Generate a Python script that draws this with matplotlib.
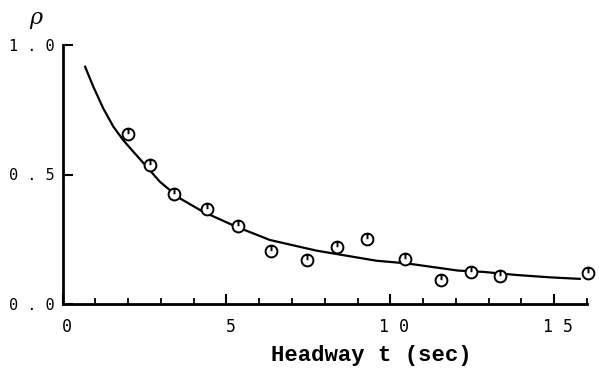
import matplotlib.pyplot as plt
import matplotlib.transforms as mtrans
from matplotlib.path import Path
import numpy as np

# observed points (headway t, rho)
obs_t = [2.0, 2.67, 3.40, 4.41, 5.35, 6.36, 7.45, 8.37, 9.28, 10.44, 11.54, 12.45, 13.34, 16.02]
obs_rho = [0.656, 0.537, 0.425, 0.367, 0.301, 0.205, 0.170, 0.220, 0.251, 0.174, 0.093, 0.124, 0.108, 0.120]

# fitted curve
fit_t = [0.69, 0.94, 1.24, 1.55, 1.85, 2.16, 2.57, 2.97, 3.33, 3.58, 4.29, 5.31, 6.33,
         7.75, 8.36, 9.58, 10.49, 12.07, 12.83, 13.85, 14.86, 15.78]
fit_rho = [0.916, 0.839, 0.756, 0.685, 0.633, 0.588, 0.530, 0.472, 0.434, 0.408, 0.356, 0.298, 0.247,
           0.206, 0.193, 0.167, 0.157, 0.129, 0.124, 0.112, 0.103, 0.097]

x_ticks = [0, 5, 10, 15]
x_labels = ['0', '5', '1 0', '1 5']
y_ticks = [0.0, 0.5, 1.0]
y_labels = ['0 . 0', '0 . 5', '1 . 0']

# circle with a short stroke inside, like the printed marker
circ = Path.unit_circle()
stroke = Path([(0, 0.95), (0, 0.05)], [Path.MOVETO, Path.LINETO])
marker = Path.make_compound_path(circ, stroke)

fig = plt.figure(figsize=(5.99, 3.72), dpi=100)
ax = fig.add_axes([62.5 / 599, 1 - 304 / 372, (587 - 62.5) / 599, (304 - 45) / 372])

ax.plot(fit_t, fit_rho, color='black', lw=1.6)
ax.plot(obs_t, obs_rho, linestyle='none', marker=marker, markersize=8.5,
        markerfacecolor='white', markeredgecolor='black', markeredgewidth=1.4, clip_on=False)

ax.set_xlim(0, 16)
ax.set_ylim(0, 1.0)
ax.spines['top'].set_visible(False)
ax.spines['right'].set_visible(False)
ax.spines['left'].set_linewidth(2)
ax.spines['bottom'].set_linewidth(2)

mono = 'DejaVu Sans Mono'
ax.set_xticks(x_ticks)
ax.set_xticklabels(x_labels, family=mono, fontsize=12)
ax.set_xticks(np.arange(0, 17, 1), minor=True)
ax.set_yticks(y_ticks)
ax.set_yticklabels(y_labels, family=mono, fontsize=11)
ax.tick_params(axis='both', which='major', direction='in', length=7, width=1.5, color='black')
ax.tick_params(axis='x', which='minor', direction='in', length=4, width=1.3)
ax.tick_params(axis='x', which='major', pad=10)
ax.tick_params(axis='y', which='major', pad=6)

# printed labels sit a little right of their ticks
shift = mtrans.ScaledTranslation(4 / 100, 0, fig.dpi_scale_trans)
for lab in ax.get_xticklabels():
    lab.set_transform(lab.get_transform() + shift)

fig.text(371 / 599, 1 - 355 / 372, 'Headway t (sec)', ha='center', va='center',
         fontsize=16, family='Liberation Mono', fontweight='bold')
fig.text(36 / 599, 1 - 18 / 372, 'ρ', ha='center', va='center',
         fontsize=16, family='DejaVu Serif', style='italic')

fig.savefig('out.png', dpi=100)
